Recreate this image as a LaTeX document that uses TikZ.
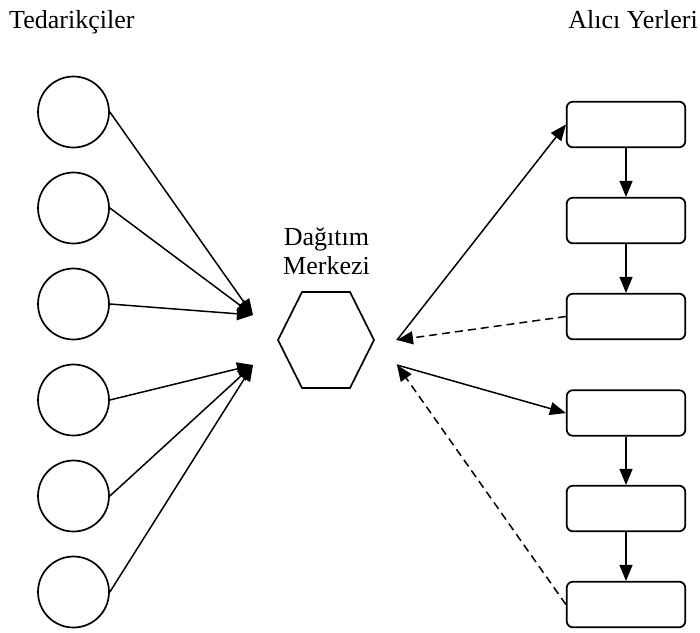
\documentclass[tikz,border=0pt]{standalone}
\usepackage{fontspec}
\setmainfont{Liberation Serif}
\usetikzlibrary{arrows.meta}
\begin{document}
\begin{tikzpicture}[x=1pt,y=-1pt,
  supplier/.style={circle,draw,line width=1.7pt,minimum size=71pt,inner sep=0pt},
  site/.style={rectangle,rounded corners=6pt,draw,line width=1.7pt,
    minimum width=118.5pt,minimum height=45.5pt,inner sep=0pt},
  flow/.style={line width=1.5pt,-{Triangle[length=16pt,width=13pt]}},
  back/.style={flow,dash pattern=on 8pt off 5pt},
  txt/.style={font=\fontsize{26}{29}\selectfont,inner sep=0pt}
]
\useasboundingbox (0,0) rectangle (700,632);

% headings
\node[txt,anchor=base west] (tl) at (9,28) {Tedarikçiler};
\node[txt,anchor=base east] (tr) at (698,28) {Alıcı Yerleri};

% suppliers
\foreach \i/\y in {1/112,2/208,3/304,4/400,5/496,6/592}
  \node[supplier] (s\i) at (73.5,\y) {};

% delivery sites
\foreach \i/\y in {1/124.5,2/220.5,3/316.5,4/413,5/508.5,6/604.5}
  \node[site] (r\i) at (626,\y) {};

% distribution centre
\coordinate (hub) at (326,340);
\draw[line width=1.7pt,line join=miter]
  (hub) ++(-48,0) -- ++(24,-48) -- ++(48,0) -- ++(24,48)
  -- ++(-24,48) -- ++(-48,0) -- cycle;
\node[txt,align=center,anchor=base] (hl) at (326.5,274) {Dağıtım\\Merkezi};

% arrow meeting points around the centre
\coordinate (inA) at (253,315);
\coordinate (inB) at (253,365);
\coordinate (outA) at (397,340);
\coordinate (outB) at (397,365);

% supplier flows
\foreach \i in {1,2,3} \draw[flow] (s\i.east) -- (inA);
\foreach \i in {4,5,6} \draw[flow] (s\i.east) -- (inB);

% outgoing and returning flows
\draw[flow] (outA) -- (r1.west);
\draw[back] (r3.west) -- (outA);
\draw[flow] (outB) -- (r4.west);
\draw[back] (r6.west) -- (outB);

% chains between sites
\draw[flow] (r1) -- (r2);
\draw[flow] (r2) -- (r3);
\draw[flow] (r4) -- (r5);
\draw[flow] (r5) -- (r6);
\end{tikzpicture}
\end{document}
